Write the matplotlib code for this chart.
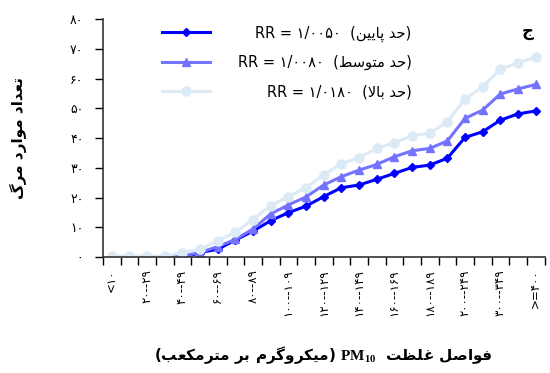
import matplotlib
matplotlib.use("Agg")
import matplotlib.pyplot as plt

plt.rcParams['font.family'] = ['DejaVu Sans']
plt.rcParams['mathtext.fontset'] = 'custom'
plt.rcParams['mathtext.bf'] = 'Liberation Serif:bold'
plt.rcParams['mathtext.rm'] = 'Liberation Serif:bold'

# categories of PM10 concentration
categories = ["<۱۰", "۱۰--۱۹", "۲۰--۲۹", "۳۰--۳۹", "۴۰--۴۹", "۵۰--۵۹", "۶۰--۶۹",
              "۷۰--۷۹", "۸۰--۸۹", "۹۰--۹۹", "۱۰۰--۱۰۹", "۱۱۰--۱۱۹", "۱۲۰--۱۲۹",
              "۱۳۰--۱۳۹", "۱۴۰--۱۴۹", "۱۵۰--۱۵۹", "۱۶۰--۱۶۹", "۱۷۰--۱۷۹",
              "۱۸۰--۱۸۹", "۱۹۰--۱۹۹", "۲۰۰--۲۴۹", "۲۵۰--۲۹۹", "۳۰۰--۳۴۹",
              "۳۵۰--۳۹۹", ">=۴۰۰"]
# deaths for each RR
low = [0, 0, 0, 0, -0.4, 1.5, 2.6, 5.7, 8.7, 12.2, 14.9, 17.1, 20.3, 23.3, 24.2,
       26.1, 28.1, 30.1, 30.9, 33.2, 40.2, 42.1, 46.0, 48.1, 49.1]
mid = [0, 0, 0, 0, 0.3, 1.5, 3.5, 5.9, 9.4, 14.5, 17.5, 20.2, 24.2, 27.0, 29.2,
       31.1, 33.7, 35.7, 36.5, 39.0, 46.6, 49.4, 54.8, 56.5, 58.0]
high = [0.3, 0.3, 0.3, 0.3, 1.5, 2.6, 5.5, 8.3, 12.6, 17.3, 20.3, 23.3, 27.6, 31.3,
        33.4, 36.5, 38.4, 40.8, 41.6, 45.5, 53.1, 57.2, 63.1, 65.3, 67.1]
yticks = [0, 10, 20, 30, 40, 50, 60, 70, 80]
ytick_labels = ["۰", "۱۰", "۲۰", "۳۰", "۴۰", "۵۰", "۶۰", "۷۰", "۸۰"]

# simple persian shaping: (isolated, final, initial, medial)
FORMS = {
    'ا': ('\uFE8D', '\uFE8E', None, None), 'ب': ('\uFE8F', '\uFE90', '\uFE91', '\uFE92'),
    'ت': ('\uFE95', '\uFE96', '\uFE97', '\uFE98'), 'ح': ('\uFEA1', '\uFEA2', '\uFEA3', '\uFEA4'),
    'د': ('\uFEA9', '\uFEAA', None, None), 'ر': ('\uFEAD', '\uFEAE', None, None),
    'س': ('\uFEB1', '\uFEB2', '\uFEB3', '\uFEB4'), 'ص': ('\uFEB9', '\uFEBA', '\uFEBB', '\uFEBC'),
    'ط': ('\uFEC1', '\uFEC2', '\uFEC3', '\uFEC4'), 'ظ': ('\uFEC5', '\uFEC6', '\uFEC7', '\uFEC8'),
    'ع': ('\uFEC9', '\uFECA', '\uFECB', '\uFECC'), 'غ': ('\uFECD', '\uFECE', '\uFECF', '\uFED0'),
    'ف': ('\uFED1', '\uFED2', '\uFED3', '\uFED4'), 'ل': ('\uFEDD', '\uFEDE', '\uFEDF', '\uFEE0'),
    'م': ('\uFEE1', '\uFEE2', '\uFEE3', '\uFEE4'), 'ن': ('\uFEE5', '\uFEE6', '\uFEE7', '\uFEE8'),
    'و': ('\uFEED', '\uFEEE', None, None), 'پ': ('\uFB56', '\uFB57', '\uFB58', '\uFB59'),
    'ک': ('\uFB8E', '\uFB8F', '\uFB90', '\uFB91'), 'گ': ('\uFB92', '\uFB93', '\uFB94', '\uFB95'),
    'ی': ('\uFBFC', '\uFBFD', '\uFBFE', '\uFBFF'),
}


def fa(s):
    out = []
    i = 0
    while i < len(s):
        c = s[i]
        if c not in FORMS:
            out.append(c)
            i += 1
            continue
        prev = s[i - 1] if i > 0 else ' '
        join_prev = prev in FORMS and FORMS[prev][2] is not None
        if c == 'ل' and i + 1 < len(s) and s[i + 1] == 'ا':
            out.append('\uFEFC' if join_prev else '\uFEFB')
            i += 2
            continue
        nxt = s[i + 1] if i + 1 < len(s) else ' '
        join_next = FORMS[c][2] is not None and nxt in FORMS
        f = FORMS[c]
        if join_prev and join_next:
            out.append(f[3])
        elif join_prev:
            out.append(f[1])
        elif join_next:
            out.append(f[2])
        else:
            out.append(f[0])
        i += 1
    return ''.join(out[::-1])


fig, ax = plt.subplots(figsize=(5.5, 3.73), dpi=100)
fig.subplots_adjust(left=0.187, right=0.99, top=0.949, bottom=0.311)

x = list(range(len(categories)))
ax.plot(x, low, color='#0000FF', lw=2.2, marker='D', ms=4.5,
        label="RR = ۱/۰۰۵۰  (" + fa("حد پایین") + ")")
ax.plot(x, mid, color='#7373FF', lw=2.2, marker='^', ms=6,
        label="RR = ۱/۰۰۸۰  (" + fa("حد متوسط") + ")")
ax.plot(x, high, color='#DCEAF6', lw=2.2, marker='o', ms=6.5,
        label="RR = ۱/۰۱۸۰  (" + fa("حد بالا") + ")")

ax.set_xlim(-0.5, len(categories) - 0.5)
ax.set_ylim(0, 80)
ax.set_yticks(yticks)
ax.set_yticklabels(ytick_labels, fontsize=9)
ax.set_xticks([i - 0.5 for i in range(len(categories) + 1)], minor=True)
ax.set_xticks(x[::2])
ax.set_xticklabels(categories[::2], rotation=90, fontsize=8.5)
ax.tick_params(axis='x', which='major', length=0, pad=9)
ax.tick_params(axis='x', which='minor', length=6, width=1, direction='out')
ax.tick_params(axis='y', length=6, width=1, pad=8)
ax.spines['top'].set_visible(False)
ax.spines['right'].set_visible(False)
for sp in ['left', 'bottom']:
    ax.spines[sp].set_linewidth(1.2)
    ax.spines[sp].set_color('#333333')

ax.set_ylabel(fa("تعداد موارد مرگ"), fontsize=11, fontweight='bold', labelpad=31)
ax.set_xlabel("(" + fa("میکروگرم بر مترمکعب") + r") $\mathbf{PM_{10}}$  " + fa("فواصل غلظت"),
              fontsize=11, fontweight='bold', labelpad=20)
ax.text(0.975, 0.95, fa("ج"), transform=ax.transAxes, fontsize=12, fontweight='bold',
        ha='right', va='center')

leg = ax.legend(loc='upper left', bbox_to_anchor=(0.105, 1.022), frameon=False,
                fontsize=10, handlelength=3.5, handletextpad=2.0, labelspacing=1.1)
fig.canvas.draw()
renderer = fig.canvas.get_renderer()
# legend texts are right aligned in the reference: redraw them as figure texts
exts = [t.get_window_extent(renderer) for t in leg.get_texts()]
right = min(e.x0 for e in exts) + max(e.width for e in exts) + 8
W, H = fig.get_size_inches() * fig.dpi
for t, e in zip(leg.get_texts(), exts):
    t.set_visible(False)
    fig.text(right / W, (e.y0 + e.y1) / 2 / H, t.get_text(), fontsize=10.5,
             ha='right', va='center')

fig.savefig("out.png", dpi=100)
